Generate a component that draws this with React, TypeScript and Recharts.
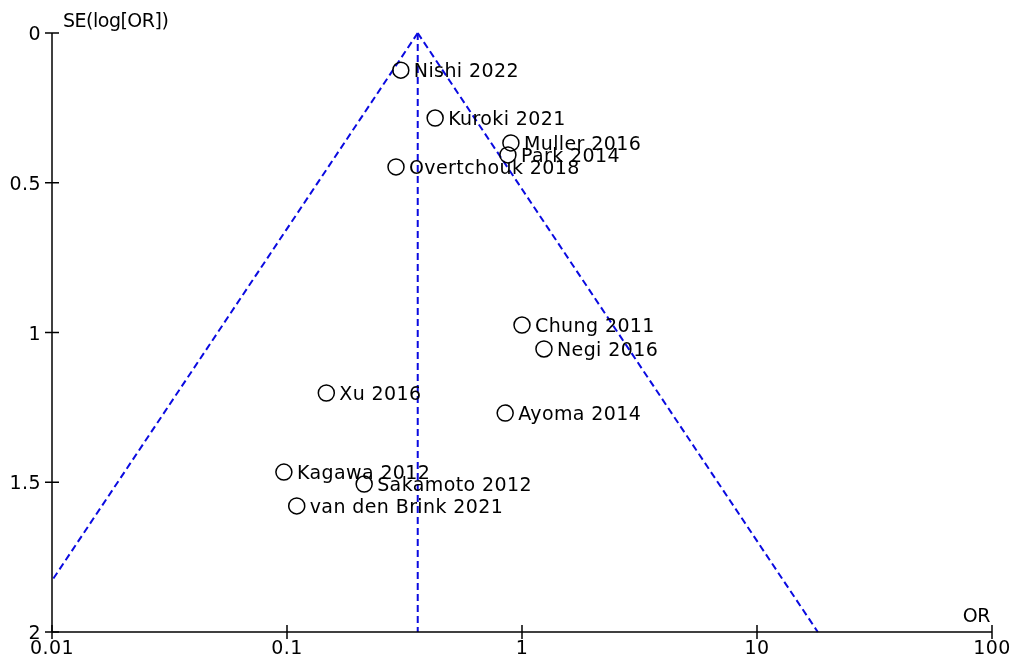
import React from 'react';
import { ScatterChart, Scatter, XAxis, YAxis, ReferenceLine, Label } from 'recharts';

const studies = [
  'Nishi 2022', 'Kuroki 2021', 'Muller 2016', 'Park 2014', 'Overtchouk 2018',
  'Chung 2011', 'Negi 2016', 'Xu 2016', 'Ayoma 2014', 'Kagawa 2012',
  'Sakamoto 2012', 'van den Brink 2021',
];
const oddsRatios = [0.305, 0.427, 0.897, 0.871, 0.291, 1.0, 1.24, 0.147, 0.848, 0.097, 0.213, 0.110];
const standardErrors = [0.124, 0.284, 0.367, 0.407, 0.447, 0.975, 1.055, 1.202, 1.269, 1.466, 1.506, 1.579];
const xTicks = [0.01, 0.1, 1, 10, 100];
const yTicks = [0, 0.5, 1, 1.5, 2];
const pooledOR = 0.36;
const zValue = 1.96;
const seMax = 2;
const orMin = 0.01;
const orMax = 100;

const data = studies.map((name, i) => ({ name, or: oddsRatios[i], se: standardErrors[i] }));

const FONT = '"DejaVu Sans", sans-serif';
const textStyle = { fontFamily: FONT, fontSize: 19, letterSpacing: 0.4, fill: '#000' };
const axisTitleStyle = { fontFamily: FONT, fontSize: 19, letterSpacing: -0.5, fill: '#000' };
const funnelColor = '#0a0ae0';

const XTick = (p: any) => (
  <g>
    <line x1={p.x} x2={p.x} y1={p.y - 7} y2={p.y + 7} stroke="#000" strokeWidth={1.5} />
    <text x={p.x} y={p.y + 22} textAnchor="middle" style={textStyle}>{p.payload.value}</text>
  </g>
);

const YTick = (p: any) => (
  <g>
    <line x1={p.x - 7} x2={p.x + 7} y1={p.y} y2={p.y} stroke="#000" strokeWidth={1.5} />
    <text x={p.x - 11} y={p.y + 7} textAnchor="end" style={textStyle}>{p.payload.value}</text>
  </g>
);

const PointShape = (p: any) => (
  <g>
    <circle cx={p.cx} cy={p.cy} r={8} fill="none" stroke="#000" strokeWidth={1.5} />
    <text x={p.cx + 13} y={p.cy + 7} style={textStyle}>{p.payload.name}</text>
  </g>
);

export default function App() {
  const leftEnd = { x: orMin, y: Math.log(pooledOR / orMin) / zValue };
  const rightEnd = { x: pooledOR * Math.exp(zValue * seMax), y: seMax };
  const apex = { x: pooledOR, y: 0 };
  const dash = { stroke: funnelColor, strokeWidth: 2, strokeDasharray: '7 4', ifOverflow: 'visible' as const };
  return (
    <div style={{ position: 'fixed', left: 0, top: 0 }}>
      <ScatterChart width={1014} height={659} margin={{ top: 33, right: 22, bottom: 0, left: 0 }}>
        <XAxis
          type="number"
          dataKey="or"
          scale="log"
          domain={[orMin, orMax]}
          ticks={xTicks}
          interval={0}
          allowDataOverflow
          height={27}
          tickSize={0}
          tickMargin={0}
          tick={<XTick />}
          axisLine={{ stroke: '#000', strokeWidth: 1.5 }}
        >
          <Label
            content={(props: any) => {
              const vb = props.viewBox || { x: 52, y: 632, width: 940 };
              return (
                <text x={vb.x + vb.width - 2} y={vb.y - 10} textAnchor="end" style={axisTitleStyle}>OR</text>
              );
            }}
          />
        </XAxis>
        <YAxis
          type="number"
          dataKey="se"
          domain={[0, seMax]}
          reversed
          ticks={yTicks}
          interval={0}
          width={52}
          tickSize={0}
          tickMargin={0}
          tick={<YTick />}
          axisLine={{ stroke: '#000', strokeWidth: 1.5 }}
        >
          <Label
            content={(props: any) => {
              const vb = props.viewBox || { x: 0, y: 33, width: 52 };
              return (
                <text x={vb.x + vb.width + 11} y={vb.y - 6} style={axisTitleStyle}>SE(log[OR])</text>
              );
            }}
          />
        </YAxis>
        <ReferenceLine segment={[apex, leftEnd]} {...dash} />
        <ReferenceLine segment={[apex, rightEnd]} {...dash} />
        <ReferenceLine segment={[apex, { x: pooledOR, y: seMax }]} {...dash} />
        <Scatter data={data} shape={<PointShape />} isAnimationActive={false} />
      </ScatterChart>
    </div>
  );
}
